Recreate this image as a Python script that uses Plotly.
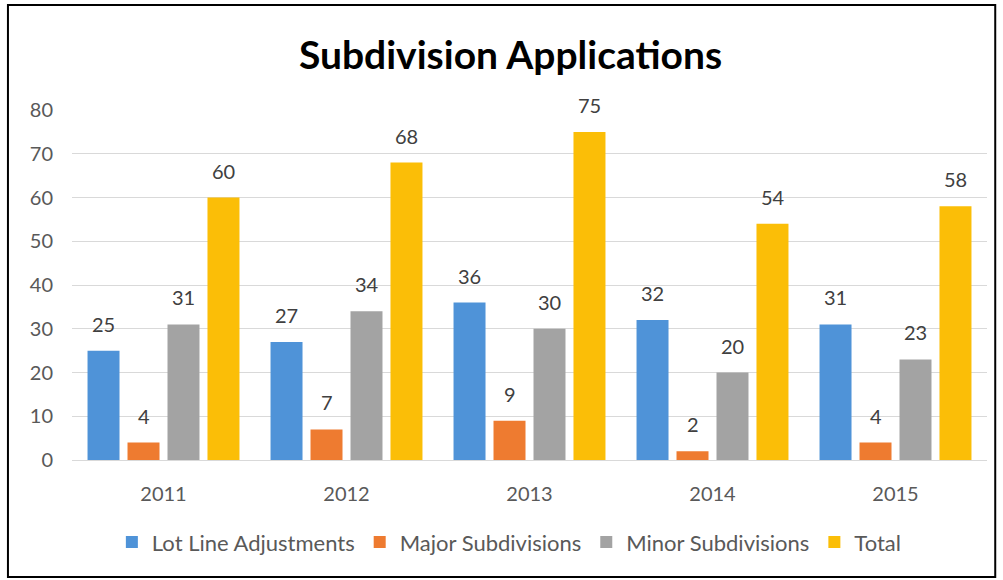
import plotly.graph_objects as go

years = ["2011", "2012", "2013", "2014", "2015"]
series_names = ["Lot Line Adjustments", "Major Subdivisions", "Minor Subdivisions", "Total"]
lot_line = [25, 27, 36, 32, 31]
major = [4, 7, 9, 2, 4]
minor = [31, 34, 30, 20, 23]
total = [60, 68, 75, 54, 58]
colors = ["#4F93D8", "#EE7B30", "#A3A3A3", "#FBBE07"]
y_ticks = [0, 10, 20, 30, 40, 50, 60, 70, 80]

FONT = "Lato"
all_vals = [lot_line, major, minor, total]

fig = go.Figure()
for name, vals, col in zip(series_names, all_vals, colors):
    fig.add_trace(go.Bar(x=years, y=vals, name=name, marker=dict(color=col, line=dict(width=0))))

# data labels (x given as category index)
shifts = [-60, -20, 20, 60]
for vals, xs in zip(all_vals, shifts):
    for i, v in enumerate(vals):
        fig.add_annotation(x=i, y=v, text=str(v), showarrow=False, xshift=xs, yshift=13,
                           yanchor="bottom", font=dict(family=FONT, size=20, color="#404040"))

fig.update_layout(
    width=1003, height=580,
    margin=dict(l=72, r=16, t=110, b=120),
    paper_bgcolor="white", plot_bgcolor="white",
    barmode="group", bargap=0.126, bargroupgap=0.2,
    title=dict(text="<b>Subdivision Applications</b>", x=0.509, xanchor="center", y=0.905, yanchor="middle",
               font=dict(family=FONT, size=39, color="#000000")),
    font=dict(family=FONT, size=20, color="#595959"),
    legend=dict(orientation="h", x=0.478, xanchor="center", y=-0.235, yanchor="middle",
                font=dict(family=FONT, size=22, color="#595959"), itemwidth=30, traceorder="normal"),
    xaxis=dict(type="category", range=[-0.5, len(years) - 0.5], showgrid=False, showline=True,
               linecolor="#D9D9D9", linewidth=1, ticks="",
               tickfont=dict(family=FONT, size=20, color="#595959"), ticklabelstandoff=16),
    yaxis=dict(range=[0, 80], tickvals=y_ticks, showgrid=True, gridcolor="#D9D9D9", gridwidth=1,
               zeroline=False, showline=False, ticks="",
               tickfont=dict(family=FONT, size=20, color="#595959"), ticklabelstandoff=18),
    shapes=[dict(type="rect", xref="paper", yref="paper", x0=-0.07, x1=1.009, y0=-0.334, y1=1.3,
                 line=dict(color="#000000", width=2), fillcolor="rgba(0,0,0,0)", layer="above")],
)

fig.write_html("out.html")
